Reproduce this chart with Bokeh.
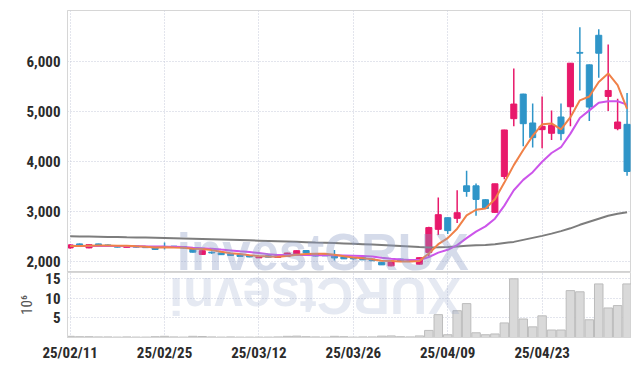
import math
from bokeh.plotting import figure
from bokeh.layouts import column
from bokeh.models import Range1d, FixedTicker, NumeralTickFormatter, Span
from bokeh.core.properties import value
from bokeh.embed import file_html
from bokeh.resources import INLINE

# ---------------- data ----------------
dates = ["25/02/11", "25/02/12", "25/02/13", "25/02/14", "25/02/17", "25/02/18", "25/02/19", "25/02/20",
         "25/02/21", "25/02/24", "25/02/25", "25/02/26", "25/02/27", "25/02/28", "25/03/04", "25/03/05",
         "25/03/06", "25/03/07", "25/03/10", "25/03/11", "25/03/12", "25/03/13", "25/03/14", "25/03/17",
         "25/03/18", "25/03/19", "25/03/20", "25/03/21", "25/03/24", "25/03/25", "25/03/26", "25/03/27",
         "25/03/28", "25/03/31", "25/04/01", "25/04/02", "25/04/03", "25/04/04", "25/04/07", "25/04/08",
         "25/04/09", "25/04/10", "25/04/11", "25/04/14", "25/04/15", "25/04/16", "25/04/17", "25/04/18",
         "25/04/21", "25/04/22", "25/04/23", "25/04/24", "25/04/25", "25/04/28", "25/04/29", "25/04/30",
         "25/05/02", "25/05/07", "25/05/08", "25/05/09"]

opens = [2280, 2360, 2280, 2360, 2340, 2325, 2290, 2320, 2300, 2290,
         2310, 2315, 2305, 2270, 2150, 2195, 2180, 2160, 2145, 2130,
         2082, 2125, 2090, 2112, 2160, 2228, 2165, 2140, 2135, 2100,
         2075, 2085, 2058, 1995, 1922, 2058, 2008, 1955, 2190, 2650,
         2882, 2869, 3517, 3517, 3240, 2988, 3703, 4855, 5345, 4769,
         4636, 4564, 4888, 5093, 6175, 5927, 6516, 5298, 4656, 4742]
highs = [2360, 2370, 2355, 2365, 2350, 2330, 2330, 2325, 2305, 2295,
         2390, 2320, 2310, 2275, 2235, 2210, 2185, 2165, 2150, 2140,
         2110, 2130, 2130, 2185, 2230, 2235, 2170, 2145, 2240, 2105,
         2100, 2090, 2062, 2000, 2022, 2065, 2040, 2090, 2700, 3286,
         2890, 3431, 3815, 3564, 3250, 3560, 4635, 5854, 5350, 5159,
         5298, 5020, 5159, 5965, 6675, 5935, 6635, 6331, 5252, 5364]
lows = [2265, 2300, 2275, 2320, 2315, 2290, 2285, 2290, 2280, 2245,
        2250, 2295, 2270, 2190, 2145, 2165, 2140, 2125, 2105, 2095,
        2078, 2090, 2085, 2105, 2155, 2175, 2110, 2118, 2030, 2060,
        2045, 2040, 2020, 1940, 1915, 2020, 2000, 1945, 2120, 2538,
        2558, 2776, 3299, 2922, 3060, 2980, 3650, 4702, 4305, 4279,
        4266, 4431, 4424, 4702, 5417, 4808, 5669, 5007, 4623, 3716]
closes = [2340, 2310, 2345, 2330, 2325, 2295, 2325, 2295, 2285, 2250,
          2300, 2300, 2280, 2195, 2225, 2180, 2145, 2130, 2110, 2100,
          2100, 2095, 2125, 2178, 2225, 2180, 2118, 2122, 2080, 2062,
          2062, 2042, 2024, 1942, 2020, 2024, 2032, 2085, 2685, 2942,
          2624, 2981, 3405, 3246, 3067, 3557, 4630, 5146, 4755, 4477,
          4702, 4723, 4557, 5960, 6160, 5086, 6159, 5417, 4788, 3802]

# volume, in millions of shares
volumes = [0.3, 0.2, 0.2, 0.15, 0.15, 0.1, 0.15, 0.1, 0.1, 0.2,
           0.3, 0.15, 0.1, 0.3, 0.25, 0.15, 0.1, 0.15, 0.1, 0.1,
           0.1, 0.1, 0.15, 0.3, 0.35, 0.2, 0.15, 0.1, 0.3, 0.2,
           0.1, 0.15, 0.15, 0.35, 0.4, 0.2, 0.15, 0.4, 1.8, 5.8,
           0.7, 6.8, 8.6, 1.2, 0.7, 0.9, 3.7, 14.9, 4.7, 2.7,
           5.5, 1.9, 1.9, 11.9, 11.6, 4.5, 13.6, 7.5, 8.1, 13.6]

ma5 = [2320, 2318, 2325, 2328, 2330, 2321, 2324, 2314, 2305, 2290,
       2291, 2286, 2283, 2265, 2260, 2236, 2205, 2175, 2158, 2133,
       2117, 2107, 2106, 2120, 2145, 2161, 2165, 2165, 2145, 2112,
       2089, 2074, 2054, 2026, 2018, 2010, 2008, 2021, 2169, 2354,
       2474, 2663, 2927, 3040, 3065, 3251, 3581, 3929, 4231, 4513,
       4742, 4761, 4643, 4884, 5220, 5297, 5584, 5756, 5522, 5050]
ma10 = [2322, 2320, 2320, 2318, 2318, 2316, 2315, 2313, 2311, 2310,
        2306, 2305, 2299, 2285, 2275, 2264, 2246, 2229, 2212, 2197,
        2177, 2156, 2141, 2139, 2139, 2139, 2136, 2135, 2132, 2129,
        2125, 2119, 2109, 2086, 2065, 2050, 2041, 2037, 2098, 2186,
        2242, 2336, 2474, 2604, 2709, 2862, 3122, 3428, 3635, 3789,
        3997, 4171, 4286, 4557, 4867, 5020, 5173, 5200, 5203, 5135]
ma60 = [2511, 2508, 2505, 2502, 2499, 2496, 2492, 2489, 2485, 2481,
        2477, 2473, 2468, 2463, 2458, 2453, 2448, 2443, 2437, 2431,
        2425, 2419, 2413, 2407, 2401, 2395, 2388, 2382, 2376, 2369,
        2362, 2354, 2346, 2337, 2328, 2318, 2307, 2296, 2290, 2293,
        2300, 2310, 2322, 2334, 2340, 2355, 2380, 2400, 2440, 2480,
        2520, 2565, 2615, 2670, 2740, 2800, 2860, 2920, 2960, 2990]

price_ticks = [2000, 3000, 4000, 5000, 6000]
volume_ticks = [5, 10, 15]
date_tick_idx = [0, 10, 20, 30, 40, 50]
watermark = "investCRUX"

# ---------------- styling ----------------
FONT = "'Roboto Condensed', 'Liberation Sans Narrow', 'Liberation Sans', sans-serif"
UP = "#e8196b"
DOWN = "#2f95c8"
GRID = "#c6cadb"
FRAME = "#d6d6d6"

idx = list(range(len(dates)))
colors = [UP if c >= o else DOWN for o, c in zip(opens, closes)]
body_top = [max(o, c) for o, c in zip(opens, closes)]
body_bot = [min(o, c) for o, c in zip(opens, closes)]

xr = Range1d(-0.28, 59.47)


def style_axis(ax):
    ax.major_tick_out = 0
    ax.major_tick_in = 0
    ax.minor_tick_out = 0
    ax.minor_tick_in = 0
    ax.axis_line_color = FRAME
    ax.major_label_text_font = FONT
    ax.major_label_text_font_size = "15px"
    ax.major_label_text_font_style = "bold"
    ax.major_label_text_color = "#2b2b2b"


def style_grid(fig, xticks, yticks):
    fig.xgrid.ticker = FixedTicker(ticks=xticks)
    fig.ygrid.ticker = FixedTicker(ticks=yticks)
    for g in (fig.xgrid, fig.ygrid):
        g.grid_line_color = GRID
        g.grid_line_dash = "1 2"
        g.grid_line_width = 1


main = figure(width=631, height=272, x_range=xr, y_range=Range1d(1790, 7010),
              output_backend="svg", toolbar_location=None, x_axis_location=None,
              min_border_left=67, min_border_right=0, min_border_top=10, min_border_bottom=0)
main.outline_line_color = FRAME
style_grid(main, date_tick_idx, price_ticks)

ya = main.yaxis[0]
ya.ticker = FixedTicker(ticks=price_ticks)
ya.formatter = NumeralTickFormatter(format="0,0")
style_axis(ya)
ya.major_label_standoff = 7

# candles
main.segment(x0=idx, y0=lows, x1=idx, y1=highs, line_color=colors, line_width=1.5)
main.vbar(x=idx, top=body_top, bottom=body_bot, width=0.64,
          fill_color=colors, line_color=colors, line_width=1)

# moving averages
main.line(idx, ma60, line_color="#7d7d7d", line_width=2)
main.line(idx, ma10, line_color="#cc55ea", line_width=2)
main.line(idx, ma5, line_color="#f08148", line_width=2)

main.add_layout(Span(location=1790, dimension="width", line_color="#c2c2c2", line_width=1.5))

# watermark (vertically centred on its anchor)
main.text(x=[11.3], y=[2190], text=[watermark], text_font=value("Liberation Sans"),
          text_font_size="51px", text_font_style="bold",
          text_color="#8a9cc4", text_alpha=0.36,
          text_align="left", text_baseline="middle")

# ---------------- volume panel ----------------
vol = figure(width=631, height=94, x_range=xr, y_range=Range1d(0, 16.5),
             output_backend="svg", toolbar_location=None,
             min_border_left=67, min_border_right=0, min_border_top=0, min_border_bottom=29)
vol.outline_line_color = FRAME
style_grid(vol, date_tick_idx, volume_ticks)

vol.vbar(x=idx, top=volumes, width=0.9, fill_color="#d9d9d9", line_color="#bcbcbc", line_width=1)

# watermark reflection (upside down)
vol.text(x=[41.4], y=[10.6], text=[watermark[::-1]], text_font=value("Liberation Sans"),
         text_font_size="51px", text_font_style="bold", angle=math.pi,
         text_color="#8a9cc4", text_alpha=0.22,
         text_align="left", text_baseline="middle")

vy = vol.yaxis[0]
vy.ticker = FixedTicker(ticks=volume_ticks)
style_axis(vy)
vy.major_label_standoff = 7
vy.axis_label = "10\u2076"
vy.axis_label_standoff = 6
vy.axis_label_text_font = FONT
vy.axis_label_text_font_size = "15px"
vy.axis_label_text_font_style = "normal"
vy.axis_label_text_color = "#555555"

vx = vol.xaxis[0]
vx.ticker = FixedTicker(ticks=date_tick_idx)
vx.major_label_overrides = {i: dates[i] for i in date_tick_idx}
style_axis(vx)
vx.major_label_standoff = 6

layout = column(main, vol, spacing=0)
open("out.html", "w").write(file_html(layout, INLINE))
